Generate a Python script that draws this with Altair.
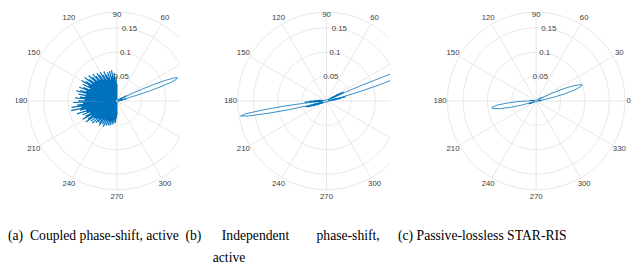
import altair as alt
import numpy as np
import pandas as pd

# ---------------- data ----------------
ring_values = [0.05, 0.1, 0.15]
ring_labels = ["0.05", "0.1", "0.15"]
r_outer = 0.182
angle_ticks = [0, 30, 60, 90, 120, 150, 180, 210, 240, 270, 300, 330]
angle_labels = ["0", "30", "60", "90", "120", "150", "180", "210", "240", "270", "300", "330"]

# (a) coupled phase-shift, active: right half + main lobe
p1_theta_main = [-90, -60, -30, -10, 0, 5, 8, 10, 11, 12, 13, 14, 15, 16, 17, 18, 19, 20,
                 21, 22, 23, 24, 25, 26, 27, 28, 29, 30, 32, 35, 40, 50, 60, 75, 90]
p1_r_main = [0.002, 0.002, 0.003, 0.004, 0.003, 0.006, 0.004, 0.012, 0.004, 0.02, 0.006,
             0.01, 0.025, 0.045, 0.07, 0.095, 0.117, 0.13, 0.133, 0.126, 0.108, 0.084,
             0.058, 0.035, 0.015, 0.005, 0.022, 0.006, 0.012, 0.004, 0.006, 0.003, 0.002,
             0.003, 0.004]
# (a) noisy left half, 90..270 degrees: spike tops and the dips between them
p1_blob_peaks = [0.035, 0.05, 0.042, 0.058, 0.048, 0.064, 0.052, 0.063, 0.045, 0.062, 0.05,
                 0.058, 0.066, 0.048, 0.06, 0.068, 0.052, 0.064, 0.07, 0.055, 0.066, 0.074,
                 0.058, 0.07, 0.078, 0.06, 0.072, 0.082, 0.062, 0.075, 0.084, 0.066, 0.078,
                 0.06, 0.074, 0.082, 0.066, 0.078, 0.086, 0.064, 0.08, 0.066, 0.076, 0.086,
                 0.066, 0.079, 0.09, 0.07, 0.082, 0.094, 0.074, 0.096, 0.078, 0.066, 0.086,
                 0.066, 0.076, 0.06, 0.072, 0.08, 0.06, 0.07, 0.077, 0.058, 0.068, 0.056,
                 0.068, 0.052, 0.062, 0.058, 0.048, 0.058, 0.062, 0.046, 0.056, 0.045, 0.06,
                 0.046, 0.055, 0.044, 0.053, 0.045, 0.052, 0.042, 0.049, 0.04, 0.047, 0.038,
                 0.045, 0.036, 0.03]
p1_blob_lows = [0.004, 0.012, 0.002, 0.018, 0.006, 0.014, 0.003, 0.02, 0.008, 0.016, 0.002,
                0.012, 0.022, 0.005, 0.015, 0.003, 0.018, 0.009, 0.024, 0.004, 0.013, 0.02,
                0.006, 0.017, 0.003, 0.025, 0.01, 0.004, 0.021, 0.014, 0.002, 0.026, 0.008,
                0.018, 0.004, 0.023, 0.012, 0.003, 0.02, 0.009, 0.028, 0.005, 0.016, 0.002,
                0.024, 0.011, 0.006, 0.022, 0.003, 0.017, 0.026, 0.007, 0.014, 0.002, 0.021,
                0.01, 0.004, 0.019, 0.012, 0.003, 0.022, 0.008, 0.015, 0.002, 0.018, 0.006,
                0.012, 0.02, 0.004, 0.014, 0.009, 0.002, 0.016, 0.006, 0.011, 0.003, 0.014,
                0.007, 0.002, 0.012, 0.005, 0.009, 0.003, 0.01, 0.004, 0.007, 0.002, 0.006,
                0.003, 0.004]

# (b) independent phase-shift, active
p2_theta = [0, 4, 6, 8, 9, 10, 11, 12, 13, 14, 15, 16, 17, 18, 19, 20, 21, 22, 23, 24, 25,
            26, 27, 28, 29, 30, 31, 32, 34, 36, 40, 60, 90, 120, 150, 170, 174, 176, 178,
            180, 181, 182, 183, 184, 185, 186, 187, 188, 189, 190, 191, 192, 193, 194, 195,
            196, 197, 198, 199, 200, 201, 202, 204, 206, 210, 240, 270, 300, 330, 360]
p2_r = [0.003, 0.008, 0.004, 0.02, 0.006, 0.03, 0.01, 0.04, 0.012, 0.03, 0.05, 0.08, 0.115,
        0.15, 0.185, 0.205, 0.21, 0.185, 0.13, 0.08, 0.04, 0.015, 0.04, 0.012, 0.035, 0.008,
        0.028, 0.006, 0.015, 0.004, 0.006, 0.002, 0.002, 0.002, 0.003, 0.006, 0.015, 0.006,
        0.025, 0.008, 0.035, 0.01, 0.045, 0.012, 0.02, 0.05, 0.09, 0.13, 0.168, 0.179, 0.16,
        0.12, 0.08, 0.04, 0.015, 0.045, 0.012, 0.04, 0.01, 0.03, 0.008, 0.022, 0.006, 0.012,
        0.004, 0.002, 0.002, 0.002, 0.003, 0.003]

# (c) passive-lossless STAR-RIS
p3_theta = [0, 4, 6, 8, 10, 12, 14, 16, 18, 19, 20, 22, 24, 26, 28, 30, 32, 34, 36, 40, 60,
            90, 120, 150, 170, 174, 176, 178, 180, 182, 184, 186, 188, 189, 190, 192, 194,
            196, 198, 200, 202, 204, 206, 210, 240, 270, 300, 330, 360]
p3_r = [0.003, 0.012, 0.004, 0.01, 0.018, 0.036, 0.06, 0.083, 0.097, 0.1, 0.098, 0.084,
        0.062, 0.036, 0.014, 0.016, 0.005, 0.012, 0.004, 0.003, 0.002, 0.002, 0.002, 0.002,
        0.003, 0.012, 0.004, 0.01, 0.018, 0.036, 0.058, 0.08, 0.091, 0.092, 0.09, 0.076,
        0.054, 0.03, 0.012, 0.016, 0.005, 0.014, 0.004, 0.003, 0.002, 0.002, 0.002, 0.002,
        0.003]

NB = "\u00a0"
ZW = "\u200b"
captions = [
    "(a)" + NB * 2 + "Coupled" + NB + "phase-shift," + NB + "active",
    ["(b)" + NB * 6 + "Independent" + NB * 8 + "phase-shift,", ZW + NB * 8 + "active"],
    "(c) Passive-lossless STAR-RIS",
]

# ---------------- build tables ----------------
blob = []
for k in range(len(p1_blob_peaks)):
    blob.append(p1_blob_peaks[k])
    if k < len(p1_blob_lows):
        blob.append(p1_blob_lows[k])
blob_theta = list(np.linspace(90, 270, len(blob)))

PX = 500.0   # pixels per unit radius
TOP = 92     # pole distance from top of plot
H = 214
GRID = "#e6e6e6"
BLUE = "#0072BD"
LBL = "#404040"
SANS = "Liberation Sans"

XY = dict(x="datum.r*cos(datum.theta*PI/180)", y="datum.r*sin(datum.theta*PI/180)")


def panel(parts, width, cx, caption, dx, fsize):
    xs = alt.Scale(domain=[-cx / PX, (width - cx) / PX], nice=False, zero=False)
    ys = alt.Scale(domain=[-(H - TOP) / PX, TOP / PX], nice=False, zero=False)
    X = alt.X("x:Q", scale=xs, axis=None)
    Y = alt.Y("y:Q", scale=ys, axis=None)

    ring_df = pd.DataFrame([(rv, d) for rv in ring_values + [r_outer] for d in range(0, 361, 2)],
                           columns=["r", "theta"])
    rings = alt.Chart(ring_df).transform_calculate(**XY).mark_line(
        stroke=GRID, strokeWidth=1, clip=True).encode(X, Y, detail="r:N", order="theta:Q")

    spoke_df = pd.DataFrame([(a, rv) for a in angle_ticks for rv in (0.0, r_outer)],
                            columns=["theta", "r"])
    spokes = alt.Chart(spoke_df).transform_calculate(**XY).mark_line(
        stroke=GRID, strokeWidth=1, clip=True).encode(X, Y, detail="theta:N", order="r:Q")

    layers = [rings, spokes]
    for theta, r, sw in parts:
        ser_df = pd.DataFrame({"theta": theta, "r": r, "i": range(len(r))})
        layers.append(alt.Chart(ser_df).transform_calculate(**XY).mark_line(
            color=BLUE, strokeWidth=sw, clip=True).encode(X, Y, order="i:Q"))

    rl_df = pd.DataFrame({"r": ring_values, "theta": [80] * 3, "label": ring_labels})
    layers.append(alt.Chart(rl_df).transform_calculate(**XY).mark_text(
        font=SANS, fontSize=8, color=LBL, align="center", baseline="middle").encode(
        X, Y, text="label:N"))

    lab_r = [0.19 if a == 0 else (0.176 if a == 90 else 0.197) for a in angle_ticks]
    al_df = pd.DataFrame({"theta": angle_ticks, "r": lab_r, "label": angle_labels})
    layers.append(alt.Chart(al_df).transform_calculate(**XY).mark_text(
        font=SANS, fontSize=8, color=LBL, align="center", baseline="middle", clip=True).encode(
        X, Y, text="label:N"))

    return alt.layer(*layers).properties(
        width=width, height=H,
        title=alt.TitleParams(text=caption, orient="bottom", anchor="start", frame="group",
                              offset=10, baseline="top", font="Liberation Serif",
                              fontSize=fsize, fontWeight="normal", color="black",
                              lineHeight=22, dx=dx))


c1 = panel([(p1_theta_main, p1_r_main, 0.8), (blob_theta, blob, 1.2)], 168, 103.7,
           captions[0], -8, 14)
c2 = panel([(p2_theta, p2_r, 0.8)], 216, 150.7, captions[1], 6, 14)
c3 = panel([(p3_theta, p3_r, 0.8)], 248, 149.7, captions[2], 8, 14)

chart = alt.hconcat(c1, c2, c3, spacing=0, bounds="flush").properties(
    padding=0, background="white").configure_view(stroke=None)

chart.save("out.html", embed_options={"renderer": "svg", "actions": False})
